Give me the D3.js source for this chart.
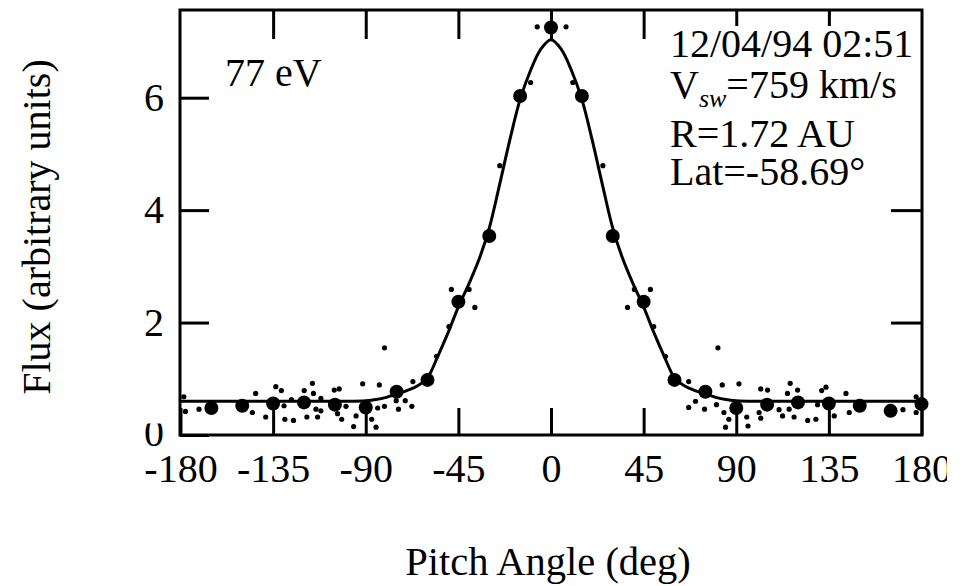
<!DOCTYPE html>
<html>
<head>
<meta charset="utf-8">
<script src="https://cdn.jsdelivr.net/npm/d3@7"></script>
<style>
  html, body { margin: 0; padding: 0; background: #fff; }
  svg { display: block; }
  text { font-family: "Liberation Serif", "Times New Roman", serif; fill: #000; }
</style>
</head>
<body>
<svg id="chart" width="969" height="586"></svg>
<script>
// ---------- data ----------
const xTickValues = [-180, -135, -90, -45, 0, 45, 90, 135, 180];
const xTopTickValues = [-135, -90, -45, 0, 45, 90, 135];
const yTickValues = [0, 2, 4, 6];
const yRightTickValues = [2, 4, 6];

// binned (large) points
const binAngles = [-165, -150, -135, -120, -105, -90, -75, -60, -45, -30, -15, 0,
                   15, 30, 45, 60, 75, 90, 105, 120, 135, 150, 165, 180];
const binFlux   = [0.48, 0.52, 0.56, 0.58, 0.54, 0.49, 0.77, 0.98, 2.37, 3.54, 6.03, 7.25,
                   6.03, 3.54, 2.37, 0.98, 0.77, 0.48, 0.54, 0.58, 0.56, 0.52, 0.43, 0.55];

// raw (small) points
const rawAngles = [-178.4, -177.6, -171, -143.5, -145.1, -138.6, -133.7, -131, -129.7, -129.3,
  -125.1, -126.1, -119.9, -115.9, -115.4, -118.6, -114.2, -111.8, -113.4, -111.8,
  -105.3, -102.9, -103.7, -101.7, -99.6, -94.7, -95.9, -91.5, -87.1, -85,
  -83.4, -84.2, -80.9, -80.9, -75.2, -74.1, -70.8, -67.6, -67.1,
  -55.6, -49.6, -48.4, -39.8, -37, -24.9, -9.9, -6.7, 7.3, 10.6, 25.2, 37.2, 40.5, 48.3, 49.9, 55.6,
  66.9, 81.1, 83.2, 91.3, 70.2, 66.9, 74.6, 80.4, 84, 86.4, 84.8, 95.7, 95.1, 101.9, 105.2,
  101.9, 101.1, 110.8, 112.5, 115.7, 116.2, 114.9, 119.8, 118.1, 124.7, 128.7, 129.5, 131.5,
  133.6, 137.6, 143.3, 144.9, 171, 177.4, 177.4];
const rawFlux = [0.68, 0.42, 0.46, 0.74, 0.40, 0.32, 0.86, 0.79, 0.52, 0.28,
  0.26, 0.63, 0.79, 0.92, 0.74, 0.32, 0.46, 0.43, 0.32, 0.65,
  0.80, 0.82, 0.38, 0.28, 0.51, 0.34, 0.15, 0.91, 0.28, 0.14,
  0.89, 0.48, 0.51, 1.55, 0.61, 0.46, 0.61, 0.51, 0.95,
  1.40, 1.93, 2.59, 2.59, 2.27, 4.79, 6.27, 7.26, 7.26, 6.27, 4.79, 2.27, 2.59, 2.59, 1.93, 1.40,
  0.95, 1.55, 0.89, 0.91, 0.60, 0.49, 0.46, 0.54, 0.40, 0.28, 0.14, 0.16, 0.32, 0.82, 0.80,
  0.30, 0.40, 0.45, 0.34, 0.46, 0.92, 0.74, 0.80, 0.32, 0.26, 0.28, 0.54, 0.79,
  0.85, 0.34, 0.74, 0.40, 0.45, 0.68, 0.40];

// fitted curve
const fitAngles = [-180, -150, -120, -100, -90, -85, -80, -75, -70, -65, -60, -55, -50, -45, -40, -35,
  -30, -25, -20, -15, -10, -5, 0, 5, 10, 15, 20, 25, 30, 35, 40, 45, 50, 55, 60, 65, 70, 75, 80,
  85, 90, 100, 120, 150, 180];
const fitFlux = [0.60, 0.60, 0.60, 0.60, 0.61, 0.63, 0.67, 0.73, 0.79, 0.87, 1.02, 1.40, 1.82, 2.28, 2.68, 3.12,
  3.68, 4.45, 5.25, 5.97, 6.48, 6.86, 7.03, 6.86, 6.48, 5.97, 5.25, 4.45, 3.68, 3.12, 2.68, 2.28, 1.82, 1.40, 1.02, 0.87, 0.79, 0.73, 0.67,
  0.63, 0.61, 0.60, 0.60, 0.60, 0.60];

const annotLines = ["12/04/94 02:51", "R=1.72 AU", "Lat=-58.69\u00B0"];

// ---------- layout ----------
const svg = d3.select("#chart");
const L = 180, R = 922, T = 10, B = 435;

const x = d3.scaleLinear().domain([-180, 180]).range([L + 0.5, R - 0.5]);
const y = d3.scaleLinear().domain([0, 7.56]).range([B, T]);

svg.append("rect").attr("width", 969).attr("height", 586).attr("fill", "#fff");

const defs = svg.append("defs");
defs.append("clipPath").attr("id", "xlabclip")
  .append("rect").attr("x", -20).attr("y", -60).attr("width", 967).attr("height", 200);
defs.append("clipPath").attr("id", "zeroclip")
  .append("rect").attr("x", -80).attr("y", -12).attr("width", 80).attr("height", 40);

function styleAxis(g) {
  g.select(".domain").remove();
  g.selectAll(".tick line").attr("stroke", "#000").attr("stroke-width", 3);
  g.selectAll(".tick text").attr("font-size", 40).attr("fill", "#000")
    .attr("font-family", "'Liberation Serif', 'Times New Roman', serif");
}

// bottom axis
const gB = svg.append("g").attr("transform", `translate(0,${B})`)
  .attr("clip-path", "url(#xlabclip)")
  .call(d3.axisBottom(x).tickValues(xTickValues).tickSize(-27).tickPadding(19).tickFormat(d3.format("d")))
  .call(styleAxis);
gB.selectAll(".tick text").text(d => String(d));

// top axis
svg.append("g").attr("transform", `translate(0,${T})`)
  .call(d3.axisTop(x).tickValues(xTopTickValues).tickSize(-29).tickFormat(""))
  .call(styleAxis);

// left axis
const gL = svg.append("g").attr("transform", `translate(${L},0)`)
  .call(d3.axisLeft(y).tickValues(yTickValues).tickSize(-29).tickPadding(16).tickFormat(d3.format("d")))
  .call(styleAxis);
gL.selectAll(".tick").filter(d => d === 0).select("text")
  .attr("clip-path", "url(#zeroclip)").attr("dy", "0.25em");

// right axis
svg.append("g").attr("transform", `translate(${R},0)`)
  .call(d3.axisRight(y).tickValues(yRightTickValues).tickSize(-31).tickFormat(""))
  .call(styleAxis);

// fitted curve
const fit = fitAngles.map((a, i) => [a, fitFlux[i]]);
svg.append("path")
  .datum(fit)
  .attr("fill", "none").attr("stroke", "#000").attr("stroke-width", 3)
  .attr("d", d3.line().x(d => x(d[0])).y(d => y(d[1])).curve(d3.curveCatmullRom.alpha(0.5)));

// raw points
svg.append("g").selectAll("circle")
  .data(rawAngles.map((a, i) => [a, rawFlux[i]]))
  .join("circle")
  .attr("cx", d => x(d[0])).attr("cy", d => y(d[1])).attr("r", 2.6).attr("fill", "#000");

// binned points
svg.append("g").selectAll("circle")
  .data(binAngles.map((a, i) => [a, binFlux[i]]))
  .join("circle")
  .attr("cx", d => x(d[0])).attr("cy", d => y(d[1])).attr("r", 7).attr("fill", "#000");

// annotation background (hides ticks behind the text block)
svg.append("rect").attr("x", 664).attr("y", 26).attr("width", 257).attr("height", 168).attr("fill", "#fff");

// frame
svg.append("rect").attr("x", L).attr("y", T).attr("width", R - L).attr("height", B - T)
  .attr("fill", "none").attr("stroke", "#000").attr("stroke-width", 3);

// annotations
svg.append("text").attr("x", 225).attr("y", 86).attr("font-size", 40).text("77 eV");

const ax = 670;
svg.append("text").attr("x", ax).attr("y", 57).attr("font-size", 40).text(annotLines[0]);
const t2 = svg.append("text").attr("x", ax).attr("y", 98).attr("font-size", 40);
t2.append("tspan").text("V");
t2.append("tspan").attr("font-size", 26).attr("font-style", "italic").attr("dy", 9).text("sw");
t2.append("tspan").attr("dy", -9).text("=759 km/s");
svg.append("text").attr("x", ax).attr("y", 147).attr("font-size", 40).text(annotLines[1]);
svg.append("text").attr("x", ax).attr("y", 185).attr("font-size", 40).text(annotLines[2]);

// axis titles
svg.append("text").attr("x", 548).attr("y", 575).attr("text-anchor", "middle")
  .attr("font-size", 40.5).text("Pitch Angle (deg)");
svg.append("text").attr("transform", "translate(50,227) rotate(-90)").attr("text-anchor", "middle")
  .attr("font-size", 40).text("Flux (arbitrary units)");
</script>
</body>
</html>
